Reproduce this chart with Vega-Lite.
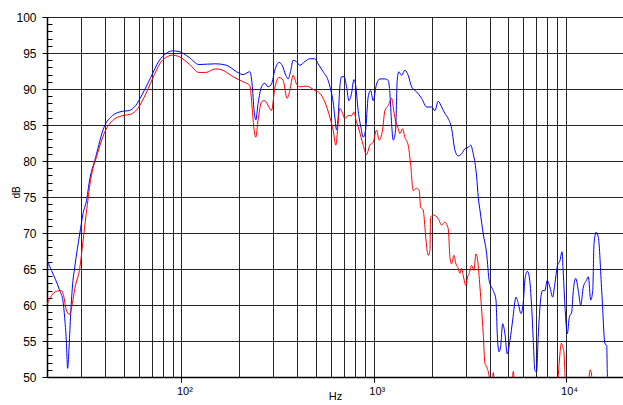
{
  "$schema": "https://vega.github.io/schema/vega-lite/v6.json",
  "width": 577,
  "height": 360,
  "autosize": {"type": "none"},
  "padding": {"left": 47, "top": 17, "right": 0, "bottom": 28},
  "background": "white",
  "config": {
    "view": {"stroke": null},
    "font": "Liberation Sans",
    "axis": {"labelFont": "Liberation Sans", "titleFont": "Liberation Sans", "labelColor": "#000", "titleColor": "#000", "titleFontWeight": "normal"}
  },
  "data": {
    "values": [
      {"series":"blue","freq":20,"dB":66.2},{"series":"blue","freq":21.1,"dB":64.8},{"series":"blue","freq":23.3,"dB":62.0},{"series":"blue","freq":24.2,"dB":60.6},{"series":"blue","freq":24.7,"dB":58.3},{"series":"blue","freq":25.2,"dB":55.1},{"series":"blue","freq":25.6,"dB":51.2},{"series":"blue","freq":26.0,"dB":53.7},{"series":"blue","freq":26.5,"dB":58.3},{"series":"blue","freq":27.1,"dB":62.5},{"series":"blue","freq":27.9,"dB":65.3},{"series":"blue","freq":29.6,"dB":69.9},{"series":"blue","freq":30.8,"dB":72.7},{"series":"blue","freq":32.3,"dB":74.9},{"series":"blue","freq":33.05,"dB":76.8},{"series":"blue","freq":35.8,"dB":80.5},{"series":"blue","freq":39.6,"dB":84.7},{"series":"blue","freq":43.8,"dB":86.3},{"series":"blue","freq":49.3,"dB":86.9},{"series":"blue","freq":53.4,"dB":87.0},{"series":"blue","freq":57.8,"dB":87.7},{"series":"blue","freq":62.7,"dB":89.3},{"series":"blue","freq":69.2,"dB":91.6},{"series":"blue","freq":76.5,"dB":93.9},{"series":"blue","freq":82.9,"dB":94.9},{"series":"blue","freq":89.8,"dB":95.3},{"series":"blue","freq":97.2,"dB":95.2},{"series":"blue","freq":109.5,"dB":94.4},{"series":"blue","freq":123.5,"dB":93.4},{"series":"blue","freq":150.8,"dB":93.5},{"series":"blue","freq":171.5,"dB":93.3},{"series":"blue","freq":193.3,"dB":92.4},{"series":"blue","freq":209.2,"dB":92.0},{"series":"blue","freq":226.7,"dB":92.4},{"series":"blue","freq":233.0,"dB":90.7},{"series":"blue","freq":238.7,"dB":87.0},{"series":"blue","freq":243.6,"dB":85.7},{"series":"blue","freq":250.4,"dB":88.0},{"series":"blue","freq":260.8,"dB":90.3},{"series":"blue","freq":271.3,"dB":90.8},{"series":"blue","freq":282.2,"dB":90.3},{"series":"blue","freq":294.0,"dB":90.7},{"series":"blue","freq":305.8,"dB":92.6},{"series":"blue","freq":321.9,"dB":93.7},{"series":"blue","freq":335.3,"dB":93.2},{"series":"blue","freq":349.0,"dB":91.9},{"series":"blue","freq":358.6,"dB":91.4},{"series":"blue","freq":369.1,"dB":92.4},{"series":"blue","freq":380.8,"dB":94.0},{"series":"blue","freq":396.6,"dB":93.8},{"series":"blue","freq":412.6,"dB":93.3},{"series":"blue","freq":438.1,"dB":93.8},{"series":"blue","freq":465.1,"dB":94.2},{"series":"blue","freq":493.7,"dB":94.2},{"series":"blue","freq":513.6,"dB":93.5},{"series":"blue","freq":545.3,"dB":92.4},{"series":"blue","freq":579.1,"dB":91.2},{"series":"blue","freq":598.1,"dB":89.8},{"series":"blue","freq":614.9,"dB":88.2},{"series":"blue","freq":627.5,"dB":86.1},{"series":"blue","freq":640.5,"dB":84.3},{"series":"blue","freq":652.9,"dB":86.1},{"series":"blue","freq":666.3,"dB":90.3},{"series":"blue","freq":680.0,"dB":91.7},{"series":"blue","freq":701.5,"dB":91.7},{"series":"blue","freq":722.0,"dB":90.3},{"series":"blue","freq":742.2,"dB":88.4},{"series":"blue","freq":766.5,"dB":89.4},{"series":"blue","freq":788.0,"dB":91.3},{"series":"blue","freq":807.1,"dB":90.3},{"series":"blue","freq":829.5,"dB":87.0},{"series":"blue","freq":857.0,"dB":84.7},{"series":"blue","freq":880.9,"dB":83.3},{"series":"blue","freq":906.6,"dB":84.3},{"series":"blue","freq":935.3,"dB":88.9},{"series":"blue","freq":962.5,"dB":89.8},{"series":"blue","freq":993.0,"dB":88.4},{"series":"blue","freq":1034,"dB":90.7},{"series":"blue","freq":1076,"dB":91.4},{"series":"blue","freq":1142,"dB":91.4},{"series":"blue","freq":1189,"dB":91.2},{"series":"blue","freq":1213,"dB":89.4},{"series":"blue","freq":1238,"dB":85.2},{"series":"blue","freq":1262,"dB":82.9},{"series":"blue","freq":1299,"dB":84.3},{"series":"blue","freq":1324,"dB":91.2},{"series":"blue","freq":1351,"dB":92.4},{"series":"blue","freq":1395,"dB":91.9},{"series":"blue","freq":1451,"dB":92.6},{"series":"blue","freq":1510,"dB":91.9},{"series":"blue","freq":1573,"dB":90.3},{"series":"blue","freq":1670,"dB":89.6},{"series":"blue","freq":1774,"dB":88.7},{"series":"blue","freq":1883,"dB":87.5},{"series":"blue","freq":1999,"dB":87.5},{"series":"blue","freq":2080,"dB":87.0},{"series":"blue","freq":2163,"dB":88.3},{"series":"blue","freq":2254,"dB":87.5},{"series":"blue","freq":2344,"dB":86.6},{"series":"blue","freq":2439,"dB":85.9},{"series":"blue","freq":2540,"dB":84.5},{"series":"blue","freq":2642,"dB":81.5},{"series":"blue","freq":2749,"dB":80.7},{"series":"blue","freq":2863,"dB":81.0},{"series":"blue","freq":2979,"dB":81.7},{"series":"blue","freq":3099,"dB":81.9},{"series":"blue","freq":3189,"dB":82.2},{"series":"blue","freq":3290,"dB":81.0},{"series":"blue","freq":3427,"dB":77.8},{"series":"blue","freq":3493,"dB":75.0},{"series":"blue","freq":3565,"dB":73.2},{"series":"blue","freq":3708,"dB":69.9},{"series":"blue","freq":3864,"dB":67.1},{"series":"blue","freq":3986,"dB":63.3},{"series":"blue","freq":4181,"dB":62.0},{"series":"blue","freq":4319,"dB":60.7},{"series":"blue","freq":4385,"dB":56.0},{"series":"blue","freq":4476,"dB":53.5},{"series":"blue","freq":4567,"dB":54.2},{"series":"blue","freq":4678,"dB":57.4},{"series":"blue","freq":4809,"dB":56.0},{"series":"blue","freq":4943,"dB":53.2},{"series":"blue","freq":5107,"dB":55.1},{"series":"blue","freq":5276,"dB":57.9},{"series":"blue","freq":5488,"dB":61.1},{"series":"blue","freq":5641,"dB":60.2},{"series":"blue","freq":5828,"dB":58.8},{"series":"blue","freq":5990,"dB":60.4},{"series":"blue","freq":6114,"dB":63.6},{"series":"blue","freq":6286,"dB":64.7},{"series":"blue","freq":6436,"dB":63.9},{"series":"blue","freq":6622,"dB":59.7},{"series":"blue","freq":6750,"dB":55.1},{"series":"blue","freq":6881,"dB":50.9},{"series":"blue","freq":7023,"dB":50.7},{"series":"blue","freq":7159,"dB":55.5},{"series":"blue","freq":7366,"dB":60.7},{"series":"blue","freq":7545,"dB":62.0},{"series":"blue","freq":7756,"dB":62.0},{"series":"blue","freq":7973,"dB":63.4},{"series":"blue","freq":8236,"dB":62.5},{"series":"blue","freq":8510,"dB":61.1},{"series":"blue","freq":8745,"dB":63.0},{"series":"blue","freq":8990,"dB":65.3},{"series":"blue","freq":9296,"dB":66.2},{"series":"blue","freq":9521,"dB":67.4},{"series":"blue","freq":9669,"dB":64.4},{"series":"blue","freq":9870,"dB":59.7},{"series":"blue","freq":10145,"dB":56.0},{"series":"blue","freq":10392,"dB":58.3},{"series":"blue","freq":10693,"dB":59.0},{"series":"blue","freq":10902,"dB":62.0},{"series":"blue","freq":11220,"dB":63.7},{"series":"blue","freq":11575,"dB":62.0},{"series":"blue","freq":11912,"dB":60.0},{"series":"blue","freq":12290,"dB":62.5},{"series":"blue","freq":12740,"dB":63.4},{"series":"blue","freq":13049,"dB":63.9},{"series":"blue","freq":13430,"dB":60.7},{"series":"blue","freq":13755,"dB":62.0},{"series":"blue","freq":13969,"dB":68.5},{"series":"blue","freq":14305,"dB":70.1},{"series":"blue","freq":14709,"dB":69.4},{"series":"blue","freq":15315,"dB":62.0},{"series":"blue","freq":15937,"dB":54.6},{"series":"blue","freq":16263,"dB":54.4},{"series":"blue","freq":16384,"dB":50.5},{"series":"blue","freq":16720,"dB":47},
      {"series":"red","freq":20,"dB":60.1},{"series":"red","freq":21.1,"dB":61.3},{"series":"red","freq":22.4,"dB":61.9},{"series":"red","freq":23.75,"dB":62.0},{"series":"red","freq":24.4,"dB":61.3},{"series":"red","freq":25.2,"dB":59.3},{"series":"red","freq":26.2,"dB":58.7},{"series":"red","freq":27.1,"dB":60.2},{"series":"red","freq":27.9,"dB":62.3},{"series":"red","freq":29.6,"dB":65.1},{"series":"red","freq":30.8,"dB":68.9},{"series":"red","freq":32.0,"dB":72.7},{"series":"red","freq":33.7,"dB":77.3},{"series":"red","freq":36.6,"dB":81.0},{"series":"red","freq":39.6,"dB":83.8},{"series":"red","freq":43.8,"dB":85.6},{"series":"red","freq":49.3,"dB":86.3},{"series":"red","freq":54.5,"dB":86.5},{"series":"red","freq":59.0,"dB":87.2},{"series":"red","freq":63.9,"dB":88.8},{"series":"red","freq":70.7,"dB":91.4},{"series":"red","freq":78.0,"dB":93.7},{"series":"red","freq":84.6,"dB":94.5},{"series":"red","freq":89.8,"dB":94.7},{"series":"red","freq":97.2,"dB":94.5},{"series":"red","freq":109.5,"dB":93.5},{"series":"red","freq":123.5,"dB":92.3},{"series":"red","freq":133.8,"dB":92.3},{"series":"red","freq":150.8,"dB":92.8},{"series":"red","freq":164.6,"dB":92.6},{"series":"red","freq":185.6,"dB":91.7},{"series":"red","freq":209.2,"dB":91.0},{"series":"red","freq":226.7,"dB":90.5},{"series":"red","freq":233.0,"dB":87.5},{"series":"red","freq":238.7,"dB":84.3},{"series":"red","freq":243.6,"dB":83.3},{"series":"red","freq":250.4,"dB":85.7},{"series":"red","freq":260.8,"dB":88.2},{"series":"red","freq":271.3,"dB":88.4},{"series":"red","freq":282.2,"dB":87.7},{"series":"red","freq":294.0,"dB":87.0},{"series":"red","freq":305.8,"dB":90.1},{"series":"red","freq":321.9,"dB":91.6},{"series":"red","freq":337.7,"dB":91.2},{"series":"red","freq":354.3,"dB":88.7},{"series":"red","freq":366.0,"dB":89.8},{"series":"red","freq":380.8,"dB":91.9},{"series":"red","freq":396.6,"dB":90.7},{"series":"red","freq":412.6,"dB":90.3},{"series":"red","freq":447.2,"dB":90.4},{"series":"red","freq":493.7,"dB":89.8},{"series":"red","freq":524.4,"dB":89.4},{"series":"red","freq":556.7,"dB":88.2},{"series":"red","freq":591.0,"dB":86.1},{"series":"red","freq":614.9,"dB":84.3},{"series":"red","freq":635.1,"dB":82.2},{"series":"red","freq":648.1,"dB":84.3},{"series":"red","freq":666.3,"dB":87.3},{"series":"red","freq":684.8,"dB":86.8},{"series":"red","freq":707.4,"dB":85.9},{"series":"red","freq":735.9,"dB":86.3},{"series":"red","freq":766.5,"dB":86.3},{"series":"red","freq":788.0,"dB":86.8},{"series":"red","freq":813.7,"dB":85.4},{"series":"red","freq":839.5,"dB":84.3},{"series":"red","freq":880.9,"dB":82.2},{"series":"red","freq":917.5,"dB":80.9},{"series":"red","freq":954.3,"dB":82.2},{"series":"red","freq":993.0,"dB":82.6},{"series":"red","freq":1034,"dB":84.3},{"series":"red","freq":1067,"dB":82.9},{"series":"red","freq":1111,"dB":84.3},{"series":"red","freq":1142,"dB":87.0},{"series":"red","freq":1189,"dB":87.7},{"series":"red","freq":1238,"dB":88.7},{"series":"red","freq":1273,"dB":86.8},{"series":"red","freq":1303,"dB":85.4},{"series":"red","freq":1340,"dB":84.5},{"series":"red","freq":1367,"dB":83.8},{"series":"red","freq":1412,"dB":84.5},{"series":"red","freq":1451,"dB":83.3},{"series":"red","freq":1510,"dB":82.2},{"series":"red","freq":1554,"dB":79.6},{"series":"red","freq":1603,"dB":75.9},{"series":"red","freq":1670,"dB":76.2},{"series":"red","freq":1723,"dB":75.9},{"series":"red","freq":1752,"dB":73.6},{"series":"red","freq":1807,"dB":73.2},{"series":"red","freq":1845,"dB":70.8},{"series":"red","freq":1883,"dB":68.1},{"series":"red","freq":1919,"dB":66.9},{"series":"red","freq":1959,"dB":67.6},{"series":"red","freq":1975,"dB":72.2},{"series":"red","freq":2037,"dB":72.5},{"series":"red","freq":2163,"dB":72.0},{"series":"red","freq":2254,"dB":71.1},{"series":"red","freq":2344,"dB":71.5},{"series":"red","freq":2439,"dB":70.6},{"series":"red","freq":2488,"dB":66.7},{"series":"red","freq":2540,"dB":65.7},{"series":"red","freq":2611,"dB":66.9},{"series":"red","freq":2675,"dB":65.7},{"series":"red","freq":2749,"dB":65.1},{"series":"red","freq":2805,"dB":64.4},{"series":"red","freq":2863,"dB":65.1},{"series":"red","freq":2918,"dB":64.1},{"series":"red","freq":3014,"dB":62.7},{"series":"red","freq":3076,"dB":63.9},{"series":"red","freq":3136,"dB":64.4},{"series":"red","freq":3227,"dB":65.5},{"series":"red","freq":3317,"dB":64.8},{"series":"red","freq":3398,"dB":67.1},{"series":"red","freq":3469,"dB":66.2},{"series":"red","freq":3565,"dB":62.5},{"series":"red","freq":3708,"dB":56.0},{"series":"red","freq":3784,"dB":51.9},{"series":"red","freq":3864,"dB":51.4},{"series":"red","freq":3986,"dB":50.0},{"series":"red","freq":4068,"dB":47},{"series":"red","freq":4181,"dB":50.6},{"series":"red","freq":4293,"dB":47},{"series":"red","freq":5169,"dB":47},{"series":"red","freq":5313,"dB":50.8},{"series":"red","freq":5454,"dB":47},{"series":"red","freq":8858,"dB":45},{"series":"red","freq":9107,"dB":50.2},{"series":"red","freq":9296,"dB":53.3},{"series":"red","freq":9441,"dB":54.7},{"series":"red","freq":9601,"dB":54.2},{"series":"red","freq":9752,"dB":53.3},{"series":"red","freq":9870,"dB":50.2},{"series":"red","freq":10108,"dB":45},{"series":"red","freq":12923,"dB":47},{"series":"red","freq":13235,"dB":50.6},{"series":"red","freq":13364,"dB":51.0},{"series":"red","freq":13556,"dB":50.4},{"series":"red","freq":13886,"dB":47},{"series":"red","freq":16920,"dB":45}
    ]
  },
  "mark": {"type": "line", "clip": true, "strokeWidth": 1, "interpolate": "monotone"},
  "encoding": {
    "x": {
      "field": "freq", "type": "quantitative",
      "scale": {"type": "log", "domain": [20, 20000]},
      "axis": {
        "values": [20,30,40,50,60,70,80,90,100,200,300,400,500,600,700,800,900,1000,2000,3000,4000,5000,6000,7000,8000,9000,10000,20000],
        "labelExpr": "datum.value == 100 ? '10²' : datum.value == 1000 ? '10³' : datum.value == 10000 ? '10⁴' : ''",
        "labelFontSize": 11, "labelPadding": 3, "labelOffset": 3, "labelFlush": false, "labelOverlap": false,
        "grid": true, "gridColor": "#000", "gridWidth": 1, "gridOpacity": 0.85,
        "tickSize": 5, "tickColor": "#000",
        "tickOpacity": {"condition": {"test": "datum.value == 100 || datum.value == 1000 || datum.value == 10000", "value": 1}, "value": 0},
        "domainColor": "#000", "domainWidth": 1.5,
        "title": "Hz", "titleFontSize": 11, "titleX": 288, "titleY": 19, "titleBaseline": "middle", "titleAlign": "center"
      }
    },
    "y": {
      "field": "dB", "type": "quantitative",
      "scale": {"domain": [50, 100], "nice": false, "zero": false},
      "axis": {
        "values": [50,51,52,53,54,55,56,57,58,59,60,61,62,63,64,65,66,67,68,69,70,71,72,73,74,75,76,77,78,79,80,81,82,83,84,85,86,87,88,89,90,91,92,93,94,95,96,97,98,99,100],
        "labelExpr": "datum.value % 5 === 0 ? datum.label : ''",
        "labelFontSize": 12, "labelPadding": 6, "labelFlush": false, "labelOverlap": false,
        "grid": true, "gridColor": "#000", "gridWidth": 1,
        "gridOpacity": {"condition": {"test": "datum.value % 5 === 0", "value": 0.85}, "value": 0},
        "tickColor": "#000", "tickWidth": 1,
        "tickSize": {"condition": {"test": "datum.value % 5 === 0", "value": 5}, "value": -5},
        "domainColor": "#000", "domainWidth": 1.5,
        "title": "dB", "titleFontSize": 10, "titleAngle": -90, "titleX": -31, "titleY": 175, "titleAlign": "center", "titleBaseline": "middle"
      }
    },
    "color": {
      "field": "series", "type": "nominal",
      "scale": {"domain": ["red", "blue"], "range": ["#ff0000", "#0000ff"]},
      "legend": null
    }
  }
}
